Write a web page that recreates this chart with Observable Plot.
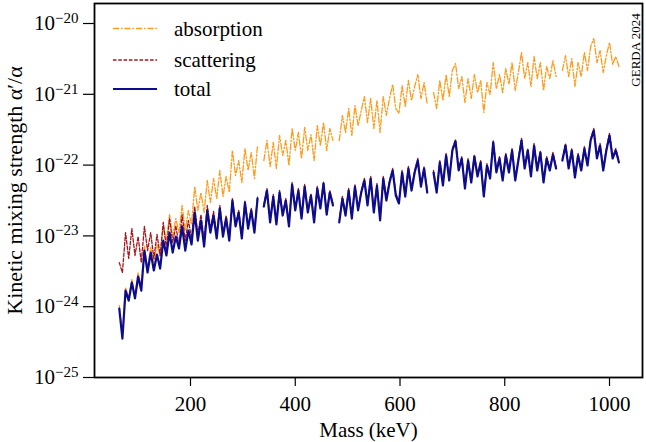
<!DOCTYPE html>
<html><head><meta charset="utf-8">
<script src="https://cdn.jsdelivr.net/npm/d3@7"></script>
<script src="https://cdn.jsdelivr.net/npm/@observablehq/plot@0.6"></script>
<style>body{margin:0;background:#fff} svg{display:block}</style>
</head><body><div id="chart"></div>
<script>
const mass = [
64,70,76,82,88,94,100,106,112,118,
124,130,136,142,148,154,160,166,172,178,
184,190,196,202,208,214,220,226,232,238,
244,250,256,262,268,274,280,286,292,298,
304,310,316,322,328,334,340,346,352,358,
364,370,376,382,388,394,400,406,412,418,
424,430,436,442,448,454,460,466,472,478,
484,490,496,502,508,514,520,526,532,538,
544,550,556,562,568,574,580,586,592,598,
604,610,616,622,628,634,640,646,652,658,
664,670,676,682,688,694,700,706,712,718,
724,730,736,742,748,754,760,766,772,778,
784,790,796,802,808,814,820,826,832,838,
844,850,856,862,868,874,880,886,892,898,
904,910,916,922,928,934,940,946,952,958,
964,970,976,982,988,994,1000,1006,1012,1018];

const absorption = [
1.04e-24,4.05e-25,1.87e-24,1.35e-24,2.42e-24,1.44e-24,3.04e-24,1.93e-24,7.08e-24,3.46e-24,
6.86e-24,4.2e-24,7.56e-24,5.11e-24,1.36e-23,8.6e-24,2.0e-23,9.8e-24,1.76e-23,1.11e-23,
2.69e-23,1.19e-23,2.29e-23,1.45e-23,4.98e-23,2.29e-23,4.1e-23,2.14e-23,6.06e-23,2.96e-23,
6.47e-23,3.37e-23,8.39e-23,3.6e-23,6.91e-23,4.1e-23,1.61e-22,7.13e-23,1.16e-22,5.68e-23,
1.71e-22,8.39e-23,1.5e-22,6.47e-23,1.89e-22,null,1.16e-22,2.23e-22,9.55e-23,2.09e-22,
8.95e-23,2.62e-22,1.37e-22,2.23e-22,9.87e-23,3.29e-22,1.61e-22,2.89e-22,1.24e-22,3.4e-22,
1.61e-22,2.7e-22,1.16e-22,3.62e-22,1.89e-22,4.0e-22,1.61e-22,3.29e-22,2.23e-22,null,
2.23e-22,5.02e-22,2.89e-22,6.3e-22,2.62e-22,6.94e-22,3.62e-22,5.9e-22,9.3e-22,4.0e-22,
8.72e-22,3.29e-22,8.18e-22,2.89e-22,9.3e-22,5.02e-22,8.72e-22,1.38e-21,6.3e-22,5.36e-22,
1.33e-21,6.72e-22,1.57e-21,8.18e-22,1.29e-21,1.9e-21,8.72e-22,1.47e-21,7.18e-22,null,
1.06e-21,6.3e-22,1.57e-21,8.18e-22,1.9e-21,9.3e-22,2.17e-21,2.72e-21,1.2e-21,1.78e-21,
7.66e-22,1.67e-21,8.72e-22,1.9e-21,1.06e-21,1.57e-21,5.53e-22,1.47e-21,9.94e-22,2.81e-21,
1.2e-21,1.9e-21,1.06e-21,2.32e-21,1.38e-21,2.81e-21,1.13e-21,2.03e-21,3.9e-21,1.67e-21,
2.81e-21,1.29e-21,3.42e-21,1.67e-21,2.81e-21,1.13e-21,2.47e-21,1.67e-21,3.0e-21,1.78e-21,
null,2.17e-21,3.53e-21,1.78e-21,3.2e-21,1.29e-21,2.81e-21,1.78e-21,3.9e-21,2.17e-21,
4.73e-21,6.14e-21,2.81e-21,4.15e-21,2.03e-21,3.53e-21,5.4e-21,2.64e-21,3.42e-21,2.47e-21];

const scattering = [
4.2e-24,3.04e-24,1.11e-23,4.8e-24,1.27e-23,5.29e-24,9.8e-24,4.2e-24,1.36e-23,6.2e-24,
1.11e-23,4.8e-24,1.05e-23,5.29e-24,1.55e-23,6.64e-24,1.76e-23,8.07e-24,1.4e-23,7.32e-24,
2.0e-23,8.6e-24,1.65e-23,9.19e-24,2.6e-23,1.05e-23,2.0e-23,8.6e-24,2.69e-23,1.27e-23,
2.22e-23,1.05e-23,2.69e-23,1.08e-23,1.94e-23,9.49e-24,3.37e-23,1.45e-23,2.29e-23,9.8e-24,
3.16e-23,1.36e-23,2.44e-23,1.19e-23,3.6e-23,null,2.78e-23,4.67e-23,1.66e-23,3.85e-23,
1.55e-23,4.38e-23,2.07e-23,3.38e-23,1.45e-23,5.68e-23,2.45e-23,4.67e-23,1.88e-23,5.32e-23,
2.29e-23,3.97e-23,1.66e-23,4.99e-23,2.61e-23,5.87e-23,2.14e-23,4.38e-23,2.87e-23,null,
1.66e-23,3.6e-23,2.07e-23,4.67e-23,1.88e-23,5.32e-23,2.45e-23,4.38e-23,6.47e-23,2.87e-23,
6.91e-23,2.29e-23,5.5e-23,1.76e-23,6.91e-23,3.38e-23,6.06e-23,8.96e-23,3.97e-23,3.06e-23,
8.39e-23,3.85e-23,9.56e-23,4.67e-23,8.39e-23,1.24e-22,5.32e-23,9.56e-23,4.38e-23,null,
8.39e-23,4.38e-23,1.16e-22,5.5e-23,1.46e-22,6.47e-23,1.72e-22,2.31e-22,8.96e-23,1.32e-22,
4.99e-23,1.24e-22,6.06e-23,1.41e-22,7.38e-23,1.16e-22,3.85e-23,1.05e-22,6.91e-23,2.23e-22,
8.39e-23,1.32e-22,6.47e-23,1.46e-22,8.39e-23,1.72e-22,6.47e-23,1.24e-22,2.38e-22,9.56e-23,
1.72e-22,7.38e-23,2.02e-22,8.96e-23,1.6e-22,6.06e-23,1.32e-22,8.96e-23,1.51e-22,9.56e-23,
null,1.24e-22,2.02e-22,9.56e-23,1.72e-22,7.13e-23,1.46e-22,8.96e-23,1.83e-22,1.05e-22,
2.38e-22,3.29e-22,1.32e-22,2.02e-22,8.96e-23,1.72e-22,2.8e-22,1.32e-22,1.72e-22,1.16e-22];

const total = [
9.4e-25,3.55e-25,1.69e-24,1.22e-24,2.2e-24,1.31e-24,2.67e-24,1.69e-24,6.2e-24,3.04e-24,
5.82e-24,3.25e-24,5.45e-24,3.46e-24,8.6e-24,5.29e-24,1.11e-23,5.82e-24,9.8e-24,6.64e-24,
1.36e-23,6.2e-24,1.19e-23,7.56e-24,2.14e-23,8.6e-24,1.65e-23,7.08e-24,2.29e-23,1.11e-23,
1.94e-23,9.19e-24,2.44e-23,9.8e-24,1.76e-23,8.6e-24,3.16e-23,1.36e-23,2.14e-23,9.19e-24,
2.96e-23,1.27e-23,2.29e-23,1.11e-23,3.37e-23,null,2.6e-23,4.37e-23,1.55e-23,3.6e-23,
1.45e-23,4.1e-23,1.94e-23,3.16e-23,1.36e-23,5.32e-23,2.29e-23,4.37e-23,1.76e-23,4.98e-23,
2.14e-23,3.72e-23,1.55e-23,4.67e-23,2.44e-23,5.5e-23,2.0e-23,4.1e-23,2.69e-23,null,
1.55e-23,3.37e-23,1.94e-23,4.37e-23,1.76e-23,4.98e-23,2.29e-23,4.1e-23,6.06e-23,2.69e-23,
6.47e-23,2.14e-23,5.15e-23,1.65e-23,6.47e-23,3.16e-23,5.68e-23,8.39e-23,3.72e-23,2.87e-23,
7.86e-23,3.6e-23,8.95e-23,4.37e-23,7.86e-23,1.16e-22,4.98e-23,8.95e-23,4.1e-23,null,
7.86e-23,4.1e-23,1.09e-22,5.15e-23,1.37e-22,6.06e-23,1.61e-22,2.16e-22,8.39e-23,1.24e-22,
4.67e-23,1.16e-22,5.68e-23,1.32e-22,6.91e-23,1.09e-22,3.6e-23,9.87e-23,6.47e-23,2.09e-22,
7.86e-23,1.24e-22,6.06e-23,1.37e-22,7.86e-23,1.61e-22,6.06e-23,1.16e-22,2.23e-22,8.95e-23,
1.61e-22,6.91e-23,1.89e-22,8.39e-23,1.5e-22,5.68e-23,1.24e-22,8.39e-23,1.41e-22,8.95e-23,
null,1.16e-22,1.89e-22,8.95e-23,1.61e-22,6.68e-23,1.37e-22,8.39e-23,1.71e-22,9.87e-23,
2.23e-22,3.08e-22,1.24e-22,1.89e-22,8.39e-23,1.61e-22,2.62e-22,1.24e-22,1.61e-22,1.09e-22];

const xTicks = [200, 400, 600, 800, 1000];
const yTicks = [1e-25, 1e-24, 1e-23, 1e-22, 1e-21, 1e-20];
const seriesNames = ["absorption", "scattering", "total"];
const seriesColors = ["#ff9a1a", "#a8141b", "#0c0c8e"];
const seriesDash = ["6,2,1.5,2", "3.5,1.8", null];
const seriesWidth = [1.3, 1.3, 2.2];
const seriesValues = [absorption, scattering, total];

const FONT = "'Liberation Serif', 'Times New Roman', serif";
const idx = mass.map((_, i) => i);

const chart = Plot.plot({
  width: 646, height: 442,
  marginLeft: 94, marginRight: 4, marginTop: 3, marginBottom: 65,
  style: {fontFamily: FONT, fontSize: "21px", color: "black", background: "white"},
  x: {domain: [16.7, 1063]},
  y: {type: "log", domain: [1e-25, 1.917e-20]},
  marks: [
    ...seriesValues.map((vals, k) => Plot.line(idx, {
      x: i => mass[i], y: i => vals[i],
      stroke: seriesColors[k], strokeWidth: seriesWidth[k],
      strokeDasharray: seriesDash[k] || undefined
    })),
    Plot.axisX({ticks: xTicks, tickSize: 9, tickPadding: 10, strokeWidth: 1.2,
      tickFormat: d => String(d),
      label: "Mass (keV)", labelAnchor: "center", labelArrow: "none", labelOffset: 59}),
    Plot.axisY({ticks: yTicks, tickSize: 11, tickPadding: 5, strokeWidth: 1.2,
      tickFormat: d => "10|" + "\u2212" + Math.abs(Math.round(Math.log10(d))),
      label: "Kinetic mixing strength \u03b1\u2032/\u03b1", labelAnchor: "center", labelArrow: "none", labelOffset: 88}),
    Plot.frame({stroke: "black", strokeWidth: 1.8})
  ]
});
document.getElementById("chart").appendChild(chart);

const svg = d3.select(chart);
svg.selectAll('g[aria-label="y-axis tick label"] text').each(function () {
  const t = d3.select(this);
  const parts = t.text().split("|");
  t.text(null);
  t.append("tspan").text(parts[0]);
  t.append("tspan").attr("dy", "-0.5em").attr("font-size", "15px").text(parts[1]);
});
svg.select('g[aria-label="y-axis label"] text').attr("font-size", "22px");

// legend
const legendY = [28.5, 60, 89];
const lg = svg.append("g").attr("font-family", FONT).attr("font-size", "21px").attr("text-anchor", "start");
seriesNames.forEach((name, k) => {
  lg.append("line").attr("x1", 113).attr("x2", 157).attr("y1", legendY[k]).attr("y2", legendY[k])
    .attr("stroke", seriesColors[k]).attr("stroke-width", seriesWidth[k])
    .attr("stroke-dasharray", seriesDash[k]);
  lg.append("text").attr("x", 174).attr("y", legendY[k] + 7).attr("fill", "black").text(name);
});
svg.append("text").attr("transform", "translate(640,50) rotate(-90)")
  .attr("text-anchor", "middle").attr("font-family", FONT).attr("font-size", "13px")
  .attr("fill", "black").text("GERDA 2024");
</script></body></html>
